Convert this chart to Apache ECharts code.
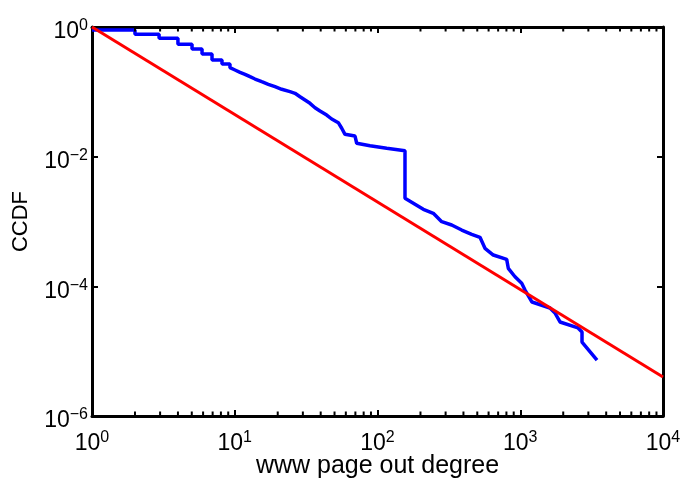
<!DOCTYPE html>
<html><head><meta charset="utf-8">
<script src="https://cdn.jsdelivr.net/npm/echarts@6/dist/echarts.min.js"></script>
<style>html,body{margin:0;padding:0;background:#fff}#c{width:682px;height:479px}</style>
</head><body><div id="c"></div>
<script>
// Empirical CCDF of www page out degree (x, y) vertices
const degree = [1, 2.00, 2.00, 2.95, 2.95, 4.00, 4.00, 5.02, 5.02, 5.90, 5.90, 6.93, 6.93, 8.14, 8.14, 9.26, 9.26,
  10.04, 10.89, 11.80, 12.79, 13.87, 15.45, 17.18, 19.14, 21.33, 24.38, 26.43, 28.65, 31.06, 33.66, 36.49, 39.55,
  44.07, 47.78, 53.15, 56.15, 59.20, 69.57, 71.50, 88.63, 116.0, 155.8, 155.8,
  178.2, 209.4, 246.0, 281.7, 331.0, 388.9, 457.0, 522.4, 566.2, 647.5, 803.5, 824.7, 918.9, 1023.8,
  1080, 1209, 1616, 1751, 1899, 2539, 2708, 2708, 3450];
const ccdf = [0.899, 0.899, 0.772, 0.772, 0.669, 0.669, 0.541, 0.541, 0.458, 0.458, 0.383, 0.383, 0.310, 0.310, 0.269, 0.269, 0.2356,
  0.2172, 0.2001, 0.1864, 0.1712, 0.1577, 0.1433, 0.1306, 0.1200, 0.1094, 0.1005, 0.0949, 0.0841, 0.0748, 0.0665, 0.0569, 0.0506,
  0.0439, 0.0381, 0.0334, 0.0274, 0.0221, 0.0208, 0.0161, 0.01476, 0.01346, 0.01235, 0.00228,
  0.00191, 0.00154, 0.001337, 0.000993, 0.000883, 0.000739, 0.000635, 0.000570, 0.000386, 0.000304, 0.000261, 0.0001897, 0.0001407, 0.0001113,
  8.77e-5, 5.73e-5, 4.63e-5, 3.88e-5, 2.82e-5, 2.28e-5, 1.97e-5, 1.38e-5, 7.30e-6];
// Power-law fit endpoints
const fitX = [1, 10000];
const fitY = [1, 4.0e-6];
// Minor tick positions on the degree axis
const minorX = [];
for (const d of [1, 10, 100, 1000]) for (let k = 2; k <= 9; k++) minorX.push(k * d);

const fmt = v => {
  const e = Math.round(Math.log10(v));
  return '{b|10}{s|' + (e < 0 ? '\u2212' + (-e) : e) + '}';
};
const rich = {
  b: {fontSize: 23, fontFamily: 'Liberation Sans', color: '#000'},
  s: {fontSize: 16, fontFamily: 'Liberation Sans', color: '#000', padding: [0, 0, 12, 0]}
};
const axLine = {show: true, lineStyle: {color: '#000', width: 3}};
const tick = {show: true, inside: true, length: 6, lineStyle: {color: '#000', width: 2}};

const chart = echarts.init(document.getElementById('c'), null, {renderer: 'canvas'});
chart.setOption({
  animation: false,
  backgroundColor: '#fff',
  grid: {left: 92, right: 19, top: 27, bottom: 63, containLabel: false, outerBoundsMode: 'none'},
  xAxis: [{
    type: 'log', logBase: 10, min: 1, max: 10000, interval: 1, position: 'bottom',
    axisLine: axLine, axisTick: tick, splitLine: {show: false},
    axisLabel: {formatter: fmt, rich: rich, margin: 14, fontSize: 23, fontFamily: 'Liberation Sans', color: '#000'},
    name: 'www page out degree', nameLocation: 'middle', nameGap: 38, nameMoveOverlap: false,
    nameTextStyle: {fontSize: 25, fontFamily: 'Liberation Sans', color: '#000'}
  }, {
    type: 'log', logBase: 10, min: 1, max: 10000, interval: 1, position: 'top',
    axisLine: axLine, axisTick: tick, splitLine: {show: false}, axisLabel: {show: false}
  }],
  yAxis: [{
    type: 'log', logBase: 10, min: 1e-6, max: 1, interval: 2, position: 'left',
    axisLine: axLine, axisTick: tick, splitLine: {show: false},
    axisLabel: {formatter: fmt, rich: rich, margin: 4, padding: [10, 0, 0, 0], fontSize: 23, fontFamily: 'Liberation Sans', color: '#000'},
    name: 'CCDF', nameLocation: 'middle', nameGap: 60, nameRotate: 90, nameMoveOverlap: false,
    nameTextStyle: {fontSize: 22, fontFamily: 'Liberation Sans', color: '#000'}
  }, {
    type: 'log', logBase: 10, min: 1e-6, max: 1, interval: 2, position: 'right',
    axisLine: axLine, axisTick: tick, splitLine: {show: false}, axisLabel: {show: false}
  }],
  series: [{
    type: 'custom', xAxisIndex: 0, yAxisIndex: 0, silent: true, z: 10, clip: false,
    data: minorX.map(v => [v, 1e-6]),
    renderItem: (params, api) => {
      const v = api.value(0);
      const b = api.coord([v, 1e-6]);
      const t = api.coord([v, 1]);
      return {type: 'group', children: [
        {type: 'line', shape: {x1: b[0], y1: b[1], x2: b[0], y2: b[1] - 4.5}, style: {stroke: '#000', lineWidth: 2}},
        {type: 'line', shape: {x1: t[0], y1: t[1], x2: t[0], y2: t[1] + 4.5}, style: {stroke: '#000', lineWidth: 2}}
      ]};
    }
  }, {
    type: 'line', xAxisIndex: 0, yAxisIndex: 0, showSymbol: false, z: 3,
    data: degree.map((x, i) => [x, ccdf[i]]),
    lineStyle: {color: '#0000ff', width: 3.5}
  }, {
    type: 'line', xAxisIndex: 0, yAxisIndex: 0, showSymbol: false, z: 4,
    data: fitX.map((x, i) => [x, fitY[i]]),
    lineStyle: {color: '#ff0000', width: 3}
  }]
});
</script></body></html>
